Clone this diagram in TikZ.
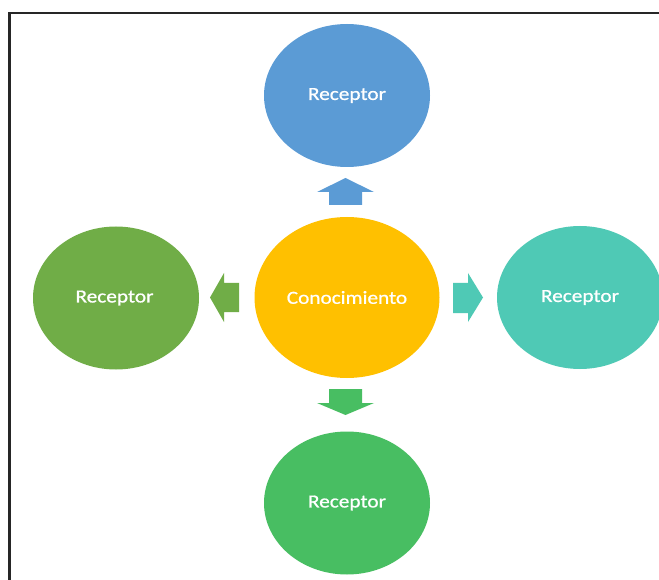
\documentclass[tikz,border=0pt]{standalone}
\usepackage{fontspec}
\newfontfamily\carl[FakeStretch=1.15,FakeBold=0.8]{Carlito}
\usetikzlibrary{shapes.geometric}
\definecolor{cblue}{HTML}{5B9BD5}
\definecolor{cgold}{HTML}{FFC000}
\definecolor{cleft}{HTML}{70AD47}
\definecolor{cteal}{HTML}{4FC9B5}
\definecolor{cgreen}{HTML}{48BE62}
\tikzset{
  bubble/.style={ellipse, inner sep=0pt, text=white, font=\carl\fontsize{18.5}{20}\selectfont},
  small/.style={bubble, minimum width=166pt, minimum height=143pt},
}
\begin{document}
\begin{tikzpicture}[x=1pt,y=-1pt]
\useasboundingbox (0,0) rectangle (659,580);
\fill[white] (0,0) rectangle (659,580);
% frame (top and left edges visible)
\draw[line width=2.3pt, black!85] (9.6,580) -- (9.6,13) -- (659,13);
% bubbles
\node[bubble, fill=cgold, minimum width=185pt, minimum height=161pt] (c) at (347,297.5) {Conocimiento};
\node[small, fill=cblue] (t) at (347,95.5) {Receptor};
\node[small, fill=cleft] (l) at (116,298) {\hspace*{-3pt}Receptor};
\node[small, fill=cteal] (r) at (580,297.5) {Receptor};
\node[small, fill=cgreen] (b) at (347,503) {Receptor};
% block arrows
\fill[cblue] (329,205) -- (329,192) -- (317,192) -- (345.5,178) -- (374,192) -- (362,192) -- (362,205) -- cycle;
\fill[cleft] (239,283) -- (224,283) -- (224,273) -- (210,297.5) -- (224,322) -- (224,312) -- (239,312) -- cycle;
\fill[cteal] (453,283) -- (468,283) -- (468,273) -- (483,297.5) -- (468,322) -- (468,313) -- (453,313) -- cycle;
\fill[cgreen] (329,389) -- (362,389) -- (362,403) -- (374,403) -- (345.5,415) -- (317,403) -- (329,403) -- cycle;
\end{tikzpicture}
\end{document}
